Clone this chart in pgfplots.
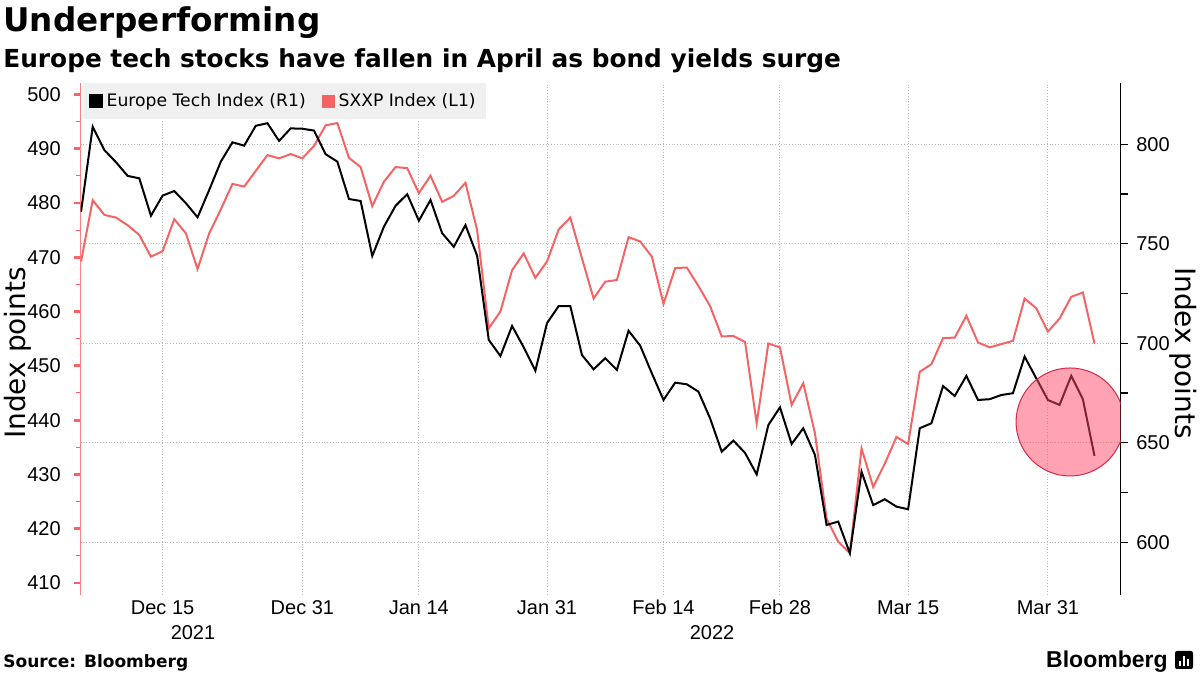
\documentclass[border=0pt]{standalone}
\usepackage{fontspec}
\setmainfont{Liberation Sans}
\newfontfamily\djv{DejaVu Sans}
\usepackage{pgfplots}
\pgfplotsset{compat=1.18}
\usepackage{pgfplotstable}
\definecolor{redline}{RGB}{245,100,100}
\definecolor{gridc}{RGB}{185,185,185}
\definecolor{circfill}{RGB}{255,70,100}
\definecolor{circdraw}{RGB}{215,40,70}

\pgfplotstableread{
i v
0 469.2
1 480.5
2 477.8
3 477.3
4 475.9
5 474.1
6 470.1
7 471.1
8 477.0
9 474.4
10 467.8
11 474.4
12 478.8
13 483.5
14 483.0
15 485.9
16 488.8
17 488.2
18 489.0
19 488.2
20 490.5
21 494.3
22 494.7
23 488.3
24 486.6
25 479.4
26 483.9
27 486.6
28 486.4
29 481.8
30 485.0
31 480.2
32 481.3
33 483.7
34 475.0
35 456.9
36 460.0
37 467.6
38 470.7
39 466.2
40 469.2
41 475.1
42 477.3
43 469.8
44 462.4
45 465.5
46 465.8
47 473.7
48 472.9
49 470.1
50 461.4
51 468.0
52 468.1
53 464.7
54 461.0
55 455.4
56 455.5
57 454.4
58 439.4
59 454.1
60 453.4
61 442.8
62 446.8
63 437.6
64 421.9
65 417.6
66 415.5
67 434.8
68 427.7
69 432.0
70 436.9
71 435.6
72 448.9
73 450.3
74 455.1
75 455.2
76 459.2
77 454.3
78 453.4
79 454.0
80 454.6
81 462.4
82 460.6
83 456.3
84 458.7
85 462.7
86 463.5
87 454.1
}\sxxp

\pgfplotstableread{
i v
0 766.1
1 808.8
2 797.1
3 791.0
4 784.1
5 782.9
6 764.1
7 774.2
8 776.5
9 770.4
10 763.3
11 777.0
12 791.3
13 801.0
14 799.3
15 809.3
16 810.6
17 801.7
18 808.0
19 807.8
20 806.9
21 795.0
22 791.3
23 772.5
24 771.5
25 743.9
26 758.6
27 769.1
28 774.9
29 761.6
30 772.0
31 755.3
32 748.5
33 759.4
34 744.0
35 701.7
36 693.6
37 708.7
38 698.0
39 686.2
40 710.1
41 718.7
42 718.7
43 694.1
44 686.9
45 692.5
46 686.6
47 706.3
48 698.8
49 684.9
50 671.5
51 680.2
52 679.4
53 675.7
54 662.3
55 645.5
56 651.1
57 644.9
58 634.1
59 658.9
60 667.8
61 649.4
62 657.3
63 643.9
64 608.7
65 610.4
66 594.5
67 635.5
68 618.7
69 621.6
70 617.9
71 616.6
72 657.3
73 659.8
74 678.5
75 673.5
76 683.6
77 671.5
78 671.9
79 674.0
80 674.9
81 693.3
82 682.4
83 671.5
84 669.0
85 683.6
86 671.9
87 643.4
}\tech

\begin{document}
\begin{tikzpicture}[x=1pt,y=1pt]
\useasboundingbox (0,0) rectangle (600,337.5);

% left axis: SXXP
\begin{axis}[
  at={(40.35pt,40pt)}, anchor=south west, scale only axis,
  width=520pt, height=256pt,
  xmin=-0.03, xmax=89.25, ymin=407.8, ymax=502.08,
  axis x line*=bottom, x axis line style={draw=none},
  axis y line*=left, y axis line style={draw=redline!80, line width=0.6pt},
  xtick=\empty,
  extra x ticks={7,19,29,40,50,60,71,83},
  extra x tick labels={Dec 15,Dec 31,Jan 14,Jan 31,Feb 14,Feb 28,Mar 15,Mar 31},
  extra x tick style={major tick length=0pt, grid=major},
  ytick={410,420,...,500}, minor y tick num=1,
  extra y ticks={417.50,435.82,454.14,472.47,490.79},
  extra y tick labels={,,,,},
  extra y tick style={major tick length=0pt, grid=major},
  tick align=outside,
  major tick length=3.5pt, minor tick length=2.5pt,
  major tick style={line width=1.4pt, draw=redline},
  minor tick style={line width=0.5pt, draw=redline},
  grid style={gridc, densely dotted, line width=0.5pt},
  tick label style={font=\fontsize{10}{12}\selectfont, text=black},
  yticklabel style={anchor=east, inner sep=0pt, xshift=-6.3pt},
  xticklabel style={anchor=north, inner sep=0pt, yshift=-2.5pt},
  /pgf/number format/assume math mode=true,
]
\addplot[redline, line width=1pt] table[x=i,y=v]{\sxxp};
\end{axis}

% right axis: Europe Tech
\begin{axis}[
  at={(40.35pt,40pt)}, anchor=south west, scale only axis,
  width=520pt, height=256pt,
  xmin=-0.03, xmax=89.25, ymin=573.5, ymax=830.8,
  axis x line=none, axis y line*=right,
  y axis line style={draw=black, line width=0.6pt},
  ytick={600,650,...,800}, minor y tick num=1,
  tick align=outside, major tick length=3.8pt, minor tick length=3.5pt,
  tick style={black, line width=0.6pt},
  yticklabel style={font=\fontsize{10}{12}\selectfont, anchor=west, inner sep=0pt, xshift=3.8pt},
  /pgf/number format/assume math mode=true,
  legend columns=2,
  legend cell align=left,
  legend style={at={(0,1)}, anchor=north west, xshift=0.8pt,
    fill=gray!12, draw=none, font=\djv\fontsize{8.6}{10.5}\selectfont,
    inner xsep=3pt, inner ysep=3pt,
    /tikz/every even column/.append style={column sep=6pt},
    /tikz/every odd column/.append style={column sep=0pt}},
  legend image code/.code={\fill[#1] (0pt,-3pt) rectangle (6pt,3pt);},
]
\addplot[black, line width=1pt] table[x=i,y=v]{\tech};
\addlegendentry{Europe Tech Index (R1)}
\addlegendimage{redline}
\addlegendentry{SXXP Index (L1)}
\draw[circdraw, line width=0.5pt, fill=circfill, fill opacity=0.5] (axis cs:84.9,660.45) circle[radius=27pt];
\end{axis}

% titles
\node[anchor=base west, inner sep=0pt, font=\djv\bfseries\fontsize{16.3}{18}\selectfont] at (1.5,321.5) {Underperforming};
\node[anchor=base west, inner sep=0pt, font=\djv\bfseries\fontsize{12.4}{14}\selectfont] at (1.5,303.5) {Europe tech stocks have fallen in April as bond yields surge};

% axis titles
\node[rotate=90, font=\djv\fontsize{14}{16}\selectfont, inner sep=0pt] at (9,161) {Index points};
\node[rotate=-90, font=\djv\fontsize{14}{16}\selectfont, inner sep=0pt] at (591.5,161) {Index points};

% years
\node[font=\fontsize{10}{12}\selectfont, inner sep=0pt] at (96.5,21) {2021};
\node[font=\fontsize{10}{12}\selectfont, inner sep=0pt] at (356,21) {2022};

% footer
\node[anchor=base west, inner sep=0pt, font=\djv\bfseries\fontsize{8.5}{10}\selectfont] at (1.5,3.5) {Source: Bloomberg};
\node[anchor=base east, inner sep=0pt, font=\bfseries\fontsize{11.5}{13}\selectfont] at (584,3.5) {Bloomberg};
\fill[black, rounded corners=1pt] (587.5,3) rectangle (596.5,12);
\fill[white] (589.6,4.5) rectangle (590.4,7);
\fill[white] (591.6,4.5) rectangle (592.4,9.5);
\fill[white] (593.6,4.5) rectangle (594.4,8);
\end{tikzpicture}
\end{document}
